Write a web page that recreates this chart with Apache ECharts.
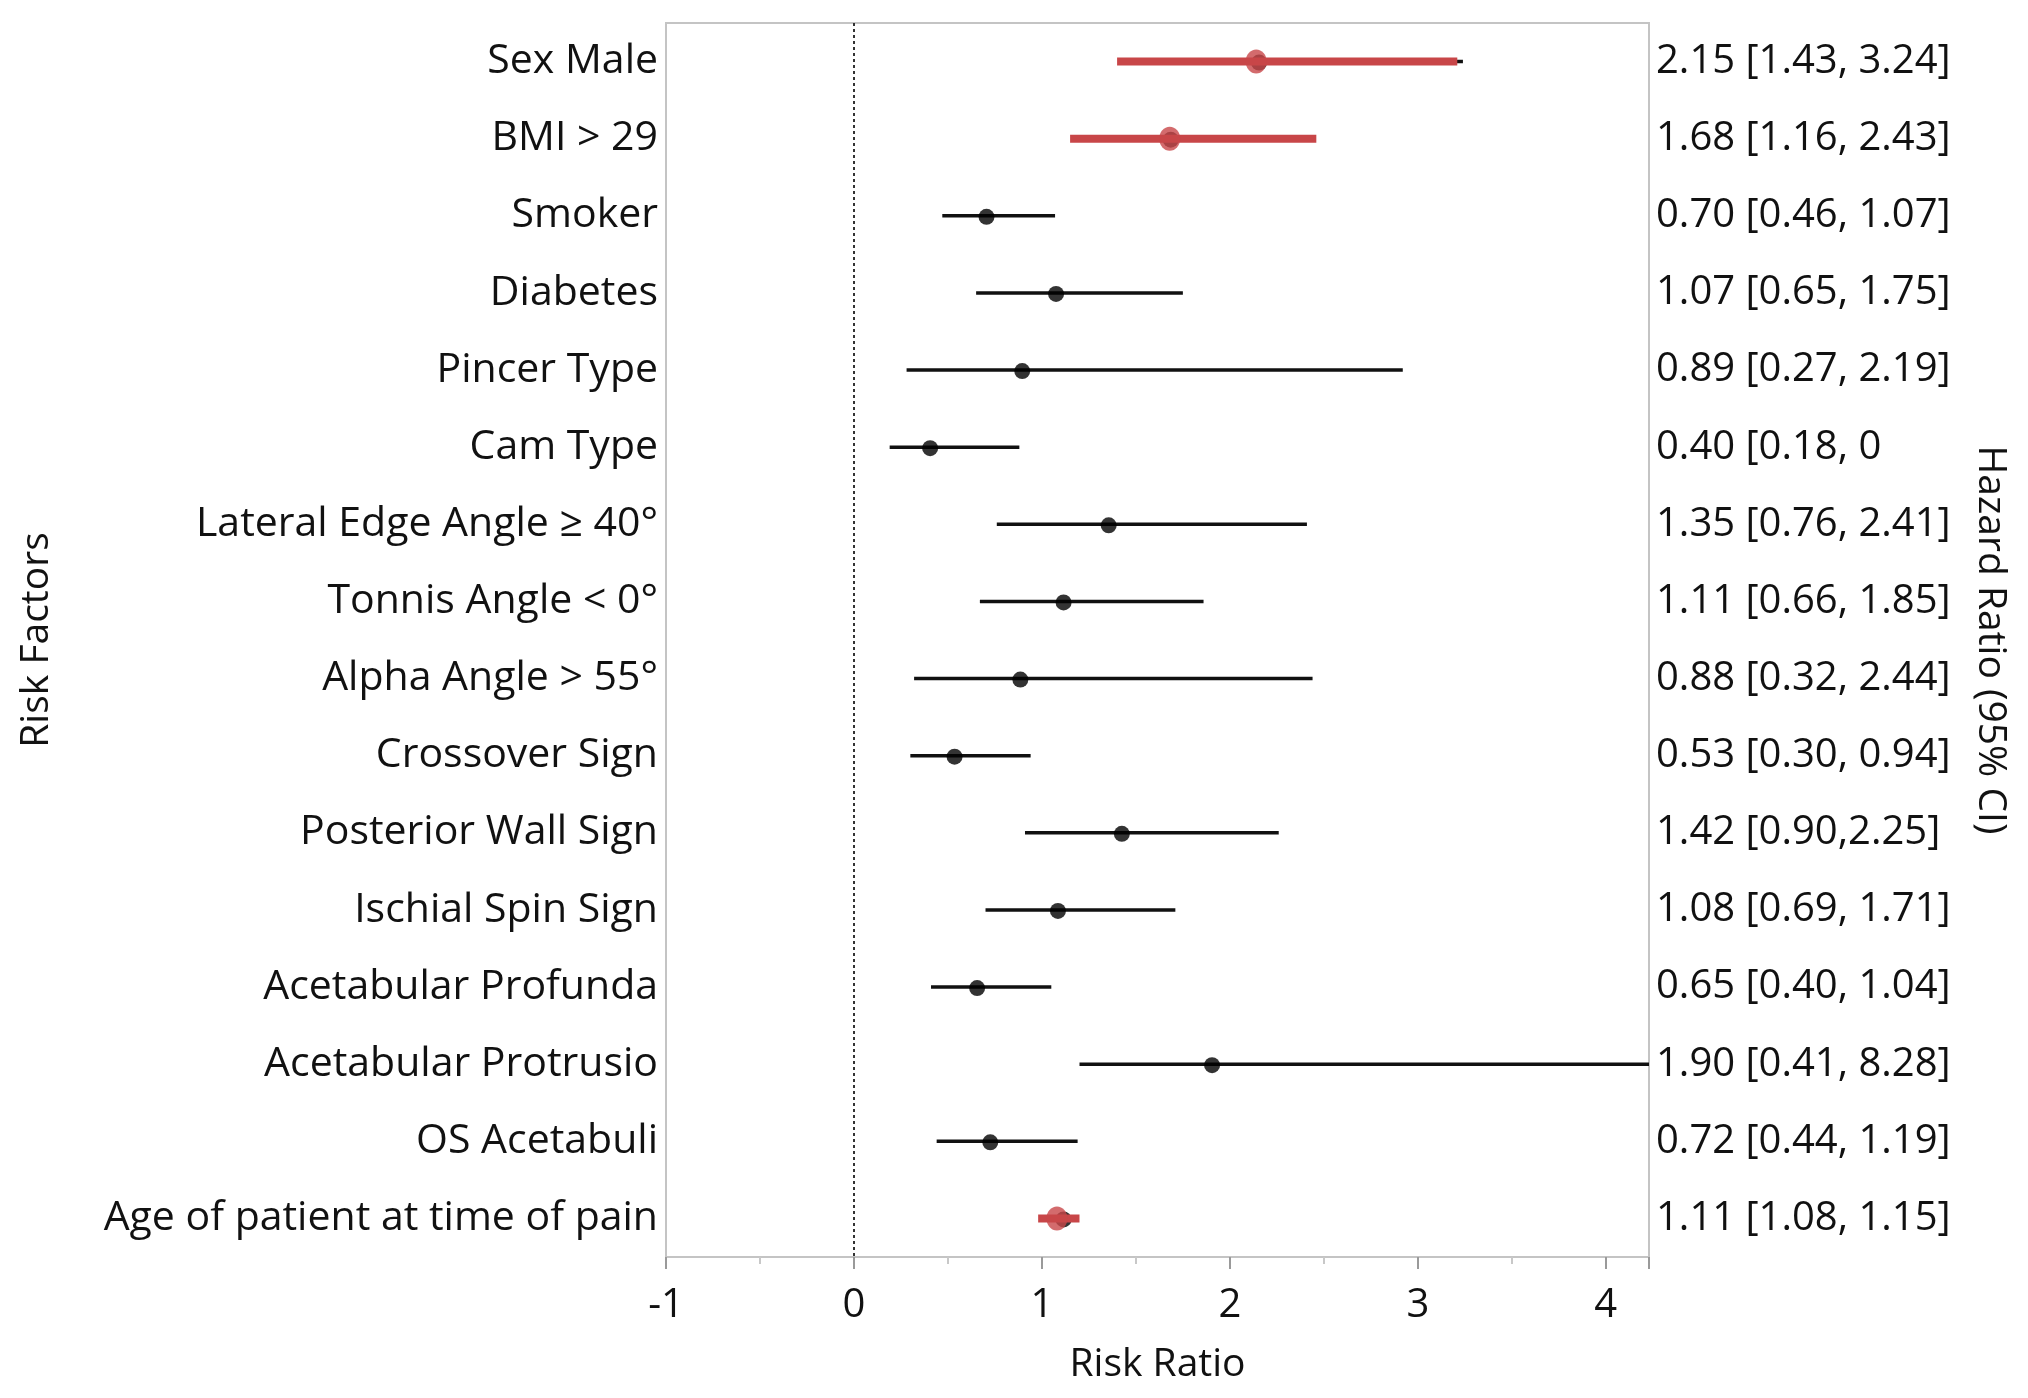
<!DOCTYPE html>
<html>
<head>
<meta charset="utf-8">
<script src="https://cdn.jsdelivr.net/npm/echarts@6/dist/echarts.min.js"></script>
<style>
html,body{margin:0;padding:0;background:#fff;}
#chart{width:2028px;height:1398px;}
</style>
</head>
<body>
<div id="chart"></div>
<script>
// ---- data ----
var categories = ['Sex Male','BMI > 29','Smoker','Diabetes','Pincer Type','Cam Type','Lateral Edge Angle \u2265 40\u00b0','Tonnis Angle < 0\u00b0','Alpha Angle > 55\u00b0','Crossover Sign','Posterior Wall Sign','Ischial Spin Sign','Acetabular Profunda','Acetabular Protrusio','OS Acetabuli','Age of patient at time of pain'];
var hrLabels = ['2.15 [1.43, 3.24]','1.68 [1.16, 2.43]','0.70 [0.46, 1.07]','1.07 [0.65, 1.75]','0.89 [0.27, 2.19]','0.40 [0.18, 0','1.35 [0.76, 2.41]','1.11 [0.66, 1.85]','0.88 [0.32, 2.44]','0.53 [0.30, 0.94]','1.42 [0.90,2.25]','1.08 [0.69, 1.71]','0.65 [0.40, 1.04]','1.90 [0.41, 8.28]','0.72 [0.44, 1.19]','1.11 [1.08, 1.15]'];
var pointEst = [2.15,1.68,0.70,1.07,0.89,0.40,1.35,1.11,0.88,0.53,1.42,1.08,0.65,1.90,0.72,1.11];
var ciLow   = [1.43,1.16,0.47,0.65,0.28,0.19,0.76,0.67,0.32,0.30,0.91,0.70,0.41,1.20,0.44,1.08];
var ciHigh  = [3.24,2.43,1.07,1.75,2.92,0.88,2.41,1.86,2.44,0.94,2.26,1.71,1.05,8.28,1.19,1.15];
// highlighted (significant) rows
var sigCats  = ['Sex Male','BMI > 29','Age of patient at time of pain'];
var sigPoint = [2.14,1.68,1.08];
var sigLow   = [1.40,1.15,0.98];
var sigHigh  = [3.21,2.46,1.20];
var xTicks = [-1,0,1,2,3,4];

var RED = '#c84648';
var FONT = 'Open Sans';

function ciRenderer(color, width) {
  return function (params, api) {
    var cat = api.value(0);
    var p1 = api.coord([api.value(1), cat]);
    var p2 = api.coord([api.value(2), cat]);
    var cs = params.coordSys;
    var x1 = Math.max(cs.x, Math.min(cs.x + cs.width, p1[0]));
    var x2 = Math.max(cs.x, Math.min(cs.x + cs.width, p2[0]));
    return {
      type: 'line',
      shape: {x1: x1, y1: p1[1], x2: x2, y2: p2[1]},
      style: {stroke: color, lineWidth: width, lineCap: 'butt'}
    };
  };
}

var blackCI = categories.map(function (c, i) { return [i, ciLow[i], ciHigh[i]]; });
var redCI = sigCats.map(function (c, i) { return [categories.indexOf(c), sigLow[i], sigHigh[i]]; });
var blackPts = categories.map(function (c, i) { return [pointEst[i], c]; });
var redPts = sigCats.map(function (c, i) { return [sigPoint[i], c]; });

var chart = echarts.init(document.getElementById('chart'));
chart.setOption({
  animation: false,
  backgroundColor: '#ffffff',
  textStyle: {fontFamily: FONT},
  grid: {left: 666, right: 379, top: 23, bottom: 141, show: true, borderColor: '#c4c4c4', borderWidth: 2, backgroundColor: 'transparent'},
  xAxis: {
    type: 'value', min: xTicks[0], max: 4.23, interval: 1,
    axisLine: {show: true, lineStyle: {color: '#c4c4c4', width: 2}},
    axisTick: {show: true, length: 12, lineStyle: {color: '#9a9a9a', width: 2}},
    minorTick: {show: true, splitNumber: 2, length: 7, lineStyle: {color: '#c8c8c8', width: 2}},
    splitLine: {show: false},
    axisLabel: {fontSize: 40, color: '#111', margin: 29, showMaxLabel: false, fontFamily: FONT},
    name: 'Risk Ratio', nameLocation: 'middle', nameGap: 88,
    nameTextStyle: {fontSize: 39, color: '#111', fontFamily: FONT}
  },
  yAxis: [{
    type: 'category', data: categories, inverse: true,
    axisLine: {show: false}, axisTick: {show: false}, splitLine: {show: false},
    axisLabel: {fontSize: 41, color: '#111', margin: 8, fontFamily: FONT, padding: [12, 0, 0, 0]},
    name: 'Risk Factors', nameLocation: 'middle', nameRotate: 90, nameGap: 610,
    nameTextStyle: {fontSize: 39, color: '#111', fontFamily: FONT}
  }, {
    type: 'category', data: hrLabels, inverse: true, position: 'right',
    axisLine: {show: false}, axisTick: {show: false}, splitLine: {show: false},
    axisLabel: {fontSize: 40, color: '#111', margin: 7, fontFamily: FONT, padding: [12, 0, 0, 0]},
    name: 'Hazard Ratio (95% CI)', nameLocation: 'middle', nameRotate: -90, nameGap: 322,
    nameTextStyle: {fontSize: 39, color: '#111', fontFamily: FONT}
  }],
  series: [{
    type: 'custom', name: 'ci', yAxisIndex: 0, z: 2,
    renderItem: ciRenderer('#111', 3.5),
    encode: {x: [1, 2], y: 0},
    data: blackCI,
    markLine: {
      silent: true, symbol: 'none', label: {show: false},
      lineStyle: {color: '#333', width: 2, type: [3, 3]},
      data: [{xAxis: 0}]
    }
  }, {
    type: 'scatter', name: 'pt', yAxisIndex: 0, z: 3,
    symbol: 'circle', symbolSize: 16, symbolOffset: [1, 1],
    itemStyle: {color: '#000'},
    data: blackPts
  }, {
    type: 'custom', name: 'sigci', yAxisIndex: 0, z: 4,
    renderItem: ciRenderer(RED, 8),
    encode: {x: [1, 2], y: 0},
    data: redCI
  }, {
    type: 'scatter', name: 'sigpt', yAxisIndex: 0, z: 5,
    symbol: 'circle', symbolSize: [21, 24],
    itemStyle: {color: RED},
    data: redPts
  }]
});
</script>
</body>
</html>
